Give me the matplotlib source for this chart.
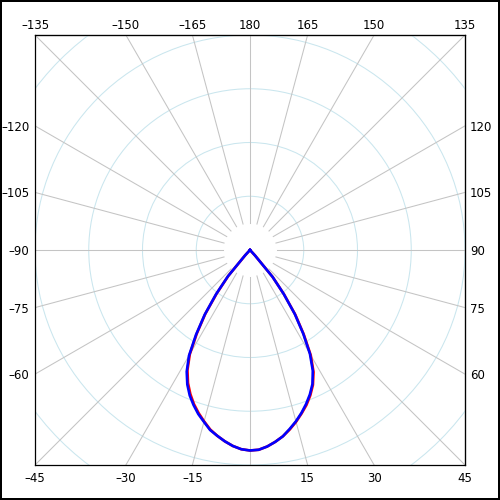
import numpy as np
import matplotlib
matplotlib.use("Agg")
import matplotlib.pyplot as plt
from matplotlib.patches import Circle

# gamma angle in degrees, 0 = straight down, positive to the right
gamma = [-45, -42.5, -40, -37.5, -35, -32.5, -30, -27.5, -25, -22.5,
         -20, -17.5, -15, -12.5, -10, -7.5, -5, -2.5, 0,
         2.5, 5, 7.5, 10, 12.5, 15, 17.5, 20, 22.5,
         25, 27.5, 30, 32.5, 35, 37.5, 40, 42.5, 45]

# luminous intensity for the two planes
intensity_red = [0, 12, 62, 101, 145, 184, 224, 252, 273, 290,
                 305, 318, 330, 342, 351, 359, 366, 371, 373,
                 372, 367, 360, 352, 342, 331, 319, 307, 293,
                 277, 256, 226, 186, 147, 104, 66, 14, 0]
intensity_blue = [0, 14, 64, 104, 147, 187, 227, 255, 276, 293,
                  307, 320, 331, 343, 351, 359, 366, 371, 373,
                  372, 367, 360, 352, 341, 330, 318, 305, 291,
                  275, 253, 223, 184, 145, 103, 65, 13, 0]

ring_values = [100, 200, 300, 400, 500]
spoke_angles = [-165, -150, -135, -120, -105, -90, -75, -60, -45, -30, -15, 0,
                15, 30, 45, 60, 75, 90, 105, 120, 135, 150, 165, 180]

bottom_labels = [-45, -30, -15, 15, 30, 45]
left_labels = [-120, -105, -90, -75, -60]
right_labels = [120, 105, 90, 75, 60]
top_labels = [-135, -150, -165, 180, 165, 150, 135]

LIMIT = 400
SPOKE_START = 50
FONT = 8.5


def to_xy(angles, values):
    a = np.radians(np.asarray(angles, dtype=float))
    v = np.asarray(values, dtype=float)
    return v * np.sin(a), -v * np.cos(a)


def fmt(values):
    return [str(v).replace("-", "\u2013") for v in values]


fig = plt.figure(figsize=(5, 5), dpi=100)
fig.patch.set_edgecolor("black")
fig.patch.set_linewidth(1.5)
ax = fig.add_axes([0.07, 0.07, 0.86, 0.86])
ax.set_xlim(-LIMIT, LIMIT)
ax.set_ylim(-LIMIT, LIMIT)
ax.set_aspect("equal")

for r in ring_values:
    ax.add_patch(Circle((0, 0), r, fill=False, edgecolor="#cae6ee", linewidth=0.75))

for g in spoke_angles:
    xs, ys = to_xy([g, g], [SPOKE_START, 3 * LIMIT])
    ax.plot(xs, ys, color="#c4c4c4", linewidth=0.75)

x, y = to_xy(gamma, intensity_red)
ax.plot(x, y, color="red", linewidth=1.9)
x, y = to_xy(gamma, intensity_blue)
ax.plot(x, y, color="blue", linewidth=1.9)

b = np.radians(bottom_labels)
ax.set_xticks(LIMIT * np.tan(b), fmt(bottom_labels))
l = np.radians(left_labels)
ax.set_yticks(LIMIT * np.cos(l) / np.sin(l), fmt(left_labels))
ax.tick_params(length=0, labelsize=FONT)
ax.tick_params(axis="x", pad=5)
ax.tick_params(axis="y", pad=4)

top = ax.secondary_xaxis("top")
t = np.radians(top_labels)
top.set_xticks(-LIMIT * np.tan(t), fmt(top_labels))
top.tick_params(length=0, labelsize=FONT, pad=2)

right = ax.secondary_yaxis("right")
rr = np.radians(right_labels)
right.set_yticks(-LIMIT * np.cos(rr) / np.sin(rr), fmt(right_labels))
right.tick_params(length=0, labelsize=FONT, pad=3.5)

for s in ax.spines.values():
    s.set_linewidth(0.9)

fig.savefig("out.png", dpi=100, edgecolor=fig.get_edgecolor())
